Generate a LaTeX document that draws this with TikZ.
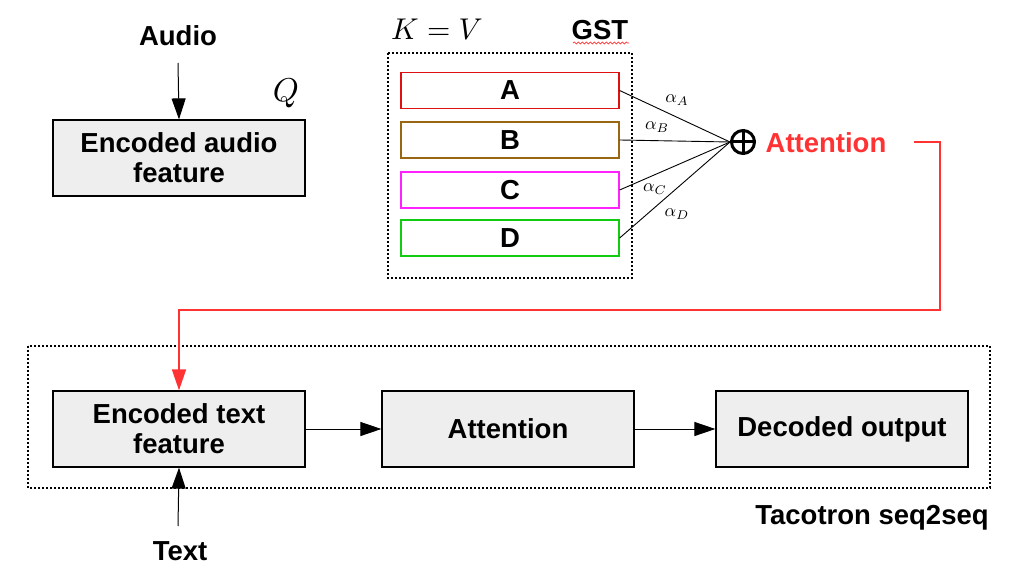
\documentclass[tikz,border=0pt]{standalone}
\usepackage{fontspec}
\setmainfont{Liberation Sans}
\usetikzlibrary{arrows.meta,decorations.pathmorphing}
\definecolor{boxfill}{HTML}{EEEEEE}
\definecolor{attred}{HTML}{FF3333}
\definecolor{kbrown}{HTML}{996611}
\definecolor{kmag}{HTML}{FF22FF}
\definecolor{kgreen}{HTML}{11CC11}
\definecolor{kred}{HTML}{DD1111}
\newcommand{\bigmath}[2]{\scalebox{#1}{$#2$}}
\newcommand{\amath}[1]{\scalebox{1.8}{$#1$}}
\tikzset{
  big/.style={font=\fontsize{27.5}{30}\selectfont\bfseries},
  graybox/.style={draw=black, line width=1.2pt, fill=boxfill, minimum width=252pt, minimum height=76pt, align=center, big, inner sep=0pt},
  keybox/.style={draw, line width=1.3pt, fill=white, minimum width=218pt, minimum height=36pt, big, inner sep=0pt},
  arr/.style={line width=1pt, -{Triangle[length=21pt,width=14pt]}},
  dotbox/.style={draw, line width=1.3pt, dash pattern=on 2pt off 2pt},
  alab/.style={font=\normalsize},
  mlab/.style={font=\normalsize},
}
\begin{document}
\begin{tikzpicture}[x=1pt,y=-1pt]
\useasboundingbox (0,0) rectangle (1016,577);
% top left
\node[big] (audio) at (178,36) {Audio};
\coordinate (as) at (178,63);
\node[graybox] (eaf) at (179,158) {Encoded audio\\feature};
\draw[arr] (as) -- (eaf.north);
\node[mlab] (q) at (286,93) {\bigmath{3.3}{Q}};
% GST
\node[mlab] (kv) at (437,29) {\bigmath{3.0}{K=V}};
\node[big] (gst) at (600,30) {GST};
\draw[attred, line width=0.7pt, decorate, decoration={snake, segment length=4pt, amplitude=1pt}] (573,43) -- (629,43);
\draw[dotbox] (388,53) rectangle (632,278);
\node[keybox, draw=kred] (ka) at (510,90.5) {A};
\node[keybox, draw=kbrown] (kb) at (510,140) {B};
\node[keybox, draw=kmag] (kc) at (510,190) {C};
\node[keybox, draw=kgreen] (kd) at (510,238) {D};
% sum
\node[circle, draw, line width=3pt, minimum size=23pt, inner sep=0pt] (sum) at (743,142) {};
\draw[line width=3pt] (sum.north) -- (sum.south) (sum.west) -- (sum.east);
\foreach \k in {ka,kb,kc,kd} \draw[line width=0.9pt] (\k.east) -- (sum.west);
\node[alab] (la) at (677,100) {\amath{\alpha_A}};
\node[alab] (lb) at (657,127) {\amath{\alpha_B}};
\node[alab] (lc) at (655,189) {\amath{\alpha_C}};
\node[alab] (ld) at (677,214) {\amath{\alpha_D}};
\node[big, text=attred] (attn) at (826,143) {Attention};
% red connector
\coordinate (rs) at (914,142);
\coordinate (rturn) at (940,310);
% bottom
\draw[dotbox] (28,346) rectangle (990,488);
\node[graybox] (etf) at (179,429) {Encoded text\\feature};
\node[graybox] (att2) at (508,429) {Attention};
\node[graybox] (dec) at (842,429) {Decoded output};
\draw[arr, attred, line width=1.6pt] (rs) -| (rturn) -| (etf.north);
\draw[arr] (etf) -- (att2);
\draw[arr] (att2) -- (dec);
\node[big] (text) at (180,551) {Text};
\coordinate (ts) at (178,526);
\draw[arr] (ts) -- (etf.south);
\node[big] (taco) at (872,518) {Tacotron seq2seq};
\end{tikzpicture}
\end{document}
